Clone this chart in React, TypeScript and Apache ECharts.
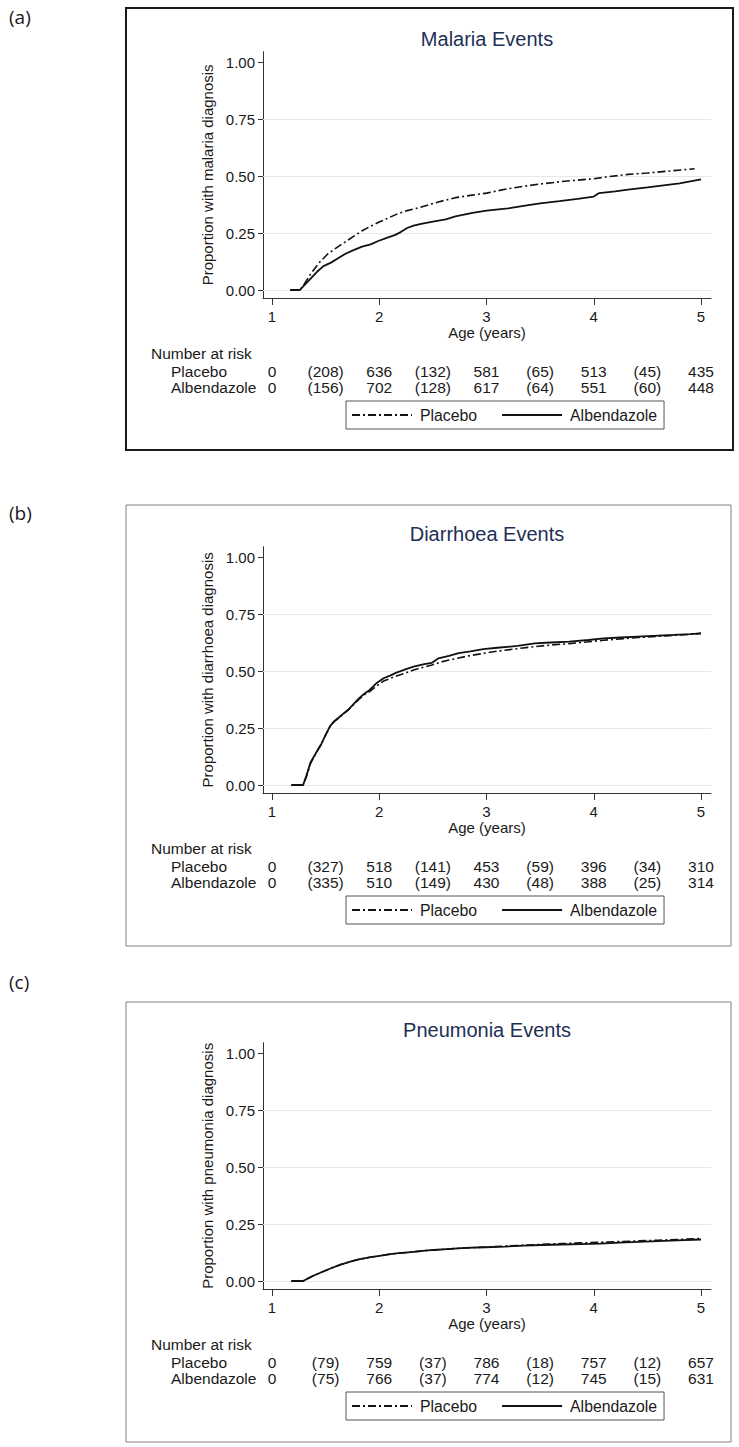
import React, { useEffect, useRef } from "react";
import * as echarts from "echarts";

// ---------- data ----------
const xTicks = [1, 2, 3, 4, 5];
const yTicks = [0, 0.25, 0.5, 0.75, 1];
const gridValues = [0, 0.25, 0.5, 0.75];
const seriesNames = ["Placebo", "Albendazole"];
const panelLetters = ["(a)", "(b)", "(c)"];
const panelTitles = ["Malaria Events", "Diarrhoea Events", "Pneumonia Events"];
const yTitles = [
  "Proportion with malaria diagnosis",
  "Proportion with diarrhoea diagnosis",
  "Proportion with pneumonia diagnosis",
];
const xTitle = "Age (years)";
const riskHeader = "Number at risk";
const riskAges = [1, 2, 3, 4, 5];
const censorAges = [1.5, 2.5, 3.5, 4.5];

const malariaPlacebo = [
  [1.17, 0], [1.26, 0], [1.3, 0.025], [1.36, 0.07], [1.44, 0.12], [1.52, 0.158],
  [1.6, 0.185], [1.68, 0.21], [1.76, 0.235], [1.84, 0.26], [1.92, 0.28], [2.0, 0.298],
  [2.08, 0.315], [2.17, 0.334], [2.25, 0.347], [2.33, 0.356], [2.45, 0.372], [2.55, 0.386],
  [2.71, 0.405], [2.85, 0.415], [3.0, 0.425], [3.2, 0.444], [3.35, 0.455], [3.52, 0.466],
  [3.75, 0.478], [4.0, 0.488], [4.15, 0.498], [4.32, 0.507], [4.5, 0.513], [4.71, 0.522],
  [4.94, 0.532],
];
const malariaAlbendazole = [
  [1.17, 0], [1.26, 0], [1.3, 0.02], [1.36, 0.05], [1.42, 0.08], [1.48, 0.105], [1.55, 0.12],
  [1.62, 0.14], [1.68, 0.158], [1.76, 0.175], [1.84, 0.19], [1.92, 0.2], [1.99, 0.215],
  [2.07, 0.229], [2.15, 0.242], [2.2, 0.254], [2.26, 0.272], [2.32, 0.282], [2.39, 0.29],
  [2.5, 0.3], [2.62, 0.31], [2.71, 0.323], [2.87, 0.338], [3.0, 0.348], [3.2, 0.358],
  [3.36, 0.37], [3.5, 0.38], [3.68, 0.39], [3.85, 0.4], [4.0, 0.41], [4.05, 0.425],
  [4.2, 0.433], [4.32, 0.44], [4.5, 0.45], [4.65, 0.459], [4.8, 0.468], [5.0, 0.485],
];
const diarrhoeaPlacebo = [
  [1.18, 0], [1.29, 0], [1.32, 0.035], [1.36, 0.095], [1.41, 0.14], [1.46, 0.18], [1.5, 0.22],
  [1.54, 0.255], [1.58, 0.278], [1.62, 0.293], [1.67, 0.313], [1.71, 0.328], [1.76, 0.352],
  [1.81, 0.375], [1.86, 0.395], [1.91, 0.41], [1.97, 0.432], [2.04, 0.456], [2.1, 0.467],
  [2.16, 0.478], [2.25, 0.492], [2.32, 0.504], [2.42, 0.518], [2.49, 0.526], [2.58, 0.54],
  [2.65, 0.548], [2.74, 0.557], [2.85, 0.568], [2.97, 0.577], [3.1, 0.587], [3.29, 0.598],
  [3.45, 0.607], [3.6, 0.614], [3.77, 0.62], [3.95, 0.628], [4.09, 0.635], [4.25, 0.641],
  [4.41, 0.647], [4.6, 0.652], [4.74, 0.656], [4.9, 0.661], [5.0, 0.665],
];
const diarrhoeaAlbendazole = [
  [1.18, 0], [1.29, 0], [1.32, 0.04], [1.36, 0.1], [1.41, 0.14], [1.46, 0.18], [1.5, 0.22],
  [1.54, 0.257], [1.58, 0.28], [1.62, 0.295], [1.67, 0.315], [1.71, 0.33], [1.76, 0.355],
  [1.81, 0.38], [1.86, 0.4], [1.91, 0.417], [1.97, 0.445], [2.04, 0.468], [2.1, 0.48],
  [2.16, 0.493], [2.25, 0.508], [2.32, 0.519], [2.42, 0.53], [2.49, 0.536], [2.55, 0.555],
  [2.65, 0.566], [2.74, 0.578], [2.85, 0.586], [2.97, 0.596], [3.1, 0.602], [3.29, 0.61],
  [3.45, 0.621], [3.6, 0.625], [3.77, 0.629], [3.95, 0.636], [4.09, 0.643], [4.25, 0.647],
  [4.41, 0.651], [4.6, 0.655], [4.74, 0.658], [4.9, 0.662], [5.0, 0.665],
];
const pneumoniaPlacebo = [
  [1.18, 0], [1.29, 0], [1.33, 0.01], [1.38, 0.022], [1.45, 0.036], [1.55, 0.056],
  [1.64, 0.072], [1.73, 0.085], [1.82, 0.096], [1.91, 0.104], [2.0, 0.11], [2.09, 0.117],
  [2.18, 0.122], [2.27, 0.126], [2.36, 0.13], [2.45, 0.134], [2.54, 0.137], [2.63, 0.14],
  [2.8, 0.145], [2.99, 0.149], [3.17, 0.153], [3.35, 0.157], [3.52, 0.161], [3.7, 0.164],
  [3.88, 0.167], [4.06, 0.17], [4.24, 0.173], [4.42, 0.176], [4.6, 0.179], [4.78, 0.182],
  [5.0, 0.186],
];
const pneumoniaAlbendazole = [
  [1.18, 0], [1.29, 0], [1.33, 0.01], [1.38, 0.022], [1.45, 0.036], [1.55, 0.056],
  [1.64, 0.072], [1.73, 0.085], [1.82, 0.096], [1.91, 0.104], [2.0, 0.11], [2.09, 0.117],
  [2.18, 0.122], [2.27, 0.126], [2.36, 0.13], [2.45, 0.134], [2.54, 0.137], [2.63, 0.14],
  [2.8, 0.145], [2.99, 0.148], [3.17, 0.151], [3.35, 0.155], [3.52, 0.158], [3.7, 0.16],
  [3.88, 0.162], [4.06, 0.164], [4.24, 0.168], [4.42, 0.172], [4.6, 0.175], [4.78, 0.178],
  [5.0, 0.182],
];

const malariaPlaceboRisk = [0, 636, 581, 513, 435];
const malariaPlaceboCens = [208, 132, 65, 45];
const malariaAlbRisk = [0, 702, 617, 551, 448];
const malariaAlbCens = [156, 128, 64, 60];
const diarrhoeaPlaceboRisk = [0, 518, 453, 396, 310];
const diarrhoeaPlaceboCens = [327, 141, 59, 34];
const diarrhoeaAlbRisk = [0, 510, 430, 388, 314];
const diarrhoeaAlbCens = [335, 149, 48, 25];
const pneumoniaPlaceboRisk = [0, 759, 786, 757, 657];
const pneumoniaPlaceboCens = [79, 37, 18, 12];
const pneumoniaAlbRisk = [0, 766, 774, 745, 631];
const pneumoniaAlbCens = [75, 37, 12, 15];

const curves = [
  [malariaPlacebo, malariaAlbendazole],
  [diarrhoeaPlacebo, diarrhoeaAlbendazole],
  [pneumoniaPlacebo, pneumoniaAlbendazole],
];
const risks = [
  [[malariaPlaceboRisk, malariaPlaceboCens], [malariaAlbRisk, malariaAlbCens]],
  [[diarrhoeaPlaceboRisk, diarrhoeaPlaceboCens], [diarrhoeaAlbRisk, diarrhoeaAlbCens]],
  [[pneumoniaPlaceboRisk, pneumoniaPlaceboCens], [pneumoniaAlbRisk, pneumoniaAlbCens]],
];

// ---------- layout ----------
const FONT = "'Liberation Sans', Arial, Helvetica, sans-serif";
const TEXT = "#1a1a1a";
const layouts = [
  { y0: 62, frameTop: 8, frameBottom: 450, frameRight: 733, frameW: 2, frameColor: "#1a1a1a", letterY: 17 },
  { y0: 557, frameTop: 505, frameBottom: 946, frameRight: 731, frameW: 1, frameColor: "#808080", letterY: 513 },
  { y0: 1053, frameTop: 1002, frameBottom: 1442, frameRight: 731, frameW: 1, frameColor: "#808080", letterY: 982 },
];
const PLOT_LEFT = 263;
const PLOT_W = 448;
const X_MIN = 0.916;
const X_MAX = 5.093;
const Y_MIN = -0.035;
const Y_MAX = 1.045;
const PX_PER_UNIT = 228;

function buildOption() {
  const grid: any[] = [];
  const xAxis: any[] = [];
  const yAxis: any[] = [];
  const series: any[] = [];
  const legend: any[] = [];
  const graphic: any[] = [];

  layouts.forEach((L, i) => {
    const plotTop = L.y0 - (Y_MAX - 1) * PX_PER_UNIT;
    const plotH = (Y_MAX - Y_MIN) * PX_PER_UNIT;
    grid.push({ left: PLOT_LEFT, top: plotTop, width: PLOT_W, height: plotH, containLabel: false });
    grid.push({ left: PLOT_LEFT, top: L.y0 + 309, width: PLOT_W, height: 16, containLabel: false });

    xAxis.push({
      gridIndex: 2 * i,
      type: "value",
      min: X_MIN,
      max: X_MAX,
      axisLine: { show: true, onZero: false, lineStyle: { color: "#333", width: 1 } },
      axisTick: { show: true, length: 7, customValues: xTicks, lineStyle: { color: "#333" } },
      axisLabel: { customValues: xTicks, margin: 11, fontSize: 15, color: TEXT, fontFamily: FONT },
      splitLine: { show: false },
      name: xTitle,
      nameLocation: "middle",
      nameGap: 27,
      nameTextStyle: { fontSize: 15, color: TEXT, fontFamily: FONT },
    });
    xAxis.push({ gridIndex: 2 * i + 1, type: "value", min: X_MIN, max: X_MAX, show: false });

    yAxis.push({
      gridIndex: 2 * i,
      type: "value",
      min: Y_MIN,
      max: Y_MAX,
      axisLine: { show: true, lineStyle: { color: "#333", width: 1 } },
      axisTick: { show: true, length: 5, customValues: yTicks, lineStyle: { color: "#333" } },
      axisLabel: {
        customValues: yTicks,
        formatter: (v: number) => v.toFixed(2),
        margin: 8,
        fontSize: 15,
        color: TEXT,
        fontFamily: FONT,
      },
      splitLine: { show: false },
      name: yTitles[i],
      nameLocation: "middle",
      nameRotate: 90,
      nameGap: 47,
      nameTextStyle: { fontSize: 15, color: TEXT, fontFamily: FONT },
    });
    yAxis.push({ gridIndex: 2 * i + 1, type: "value", min: 0, max: 1, show: false });

    const [plac, alb] = curves[i];
    series.push({
      type: "line",
      name: seriesNames[0],
      xAxisIndex: 2 * i,
      yAxisIndex: 2 * i,
      data: plac,
      symbol: "none",
      smooth: false,
      z: 3,
      itemStyle: { color: "#111" },
      lineStyle: { color: "#111", width: 1.6, type: [8, 3, 2, 3] },
      markLine: {
        silent: true,
        symbol: "none",
        z: 1,
        label: { show: false },
        lineStyle: { color: "#e1e9ec", width: 1, type: "solid" },
        emphasis: { disabled: true },
        data: gridValues.map((v) => ({ yAxis: v })),
      },
    });
    series.push({
      type: "line",
      name: seriesNames[1],
      xAxisIndex: 2 * i,
      yAxisIndex: 2 * i,
      data: alb,
      symbol: "none",
      smooth: false,
      z: 4,
      itemStyle: { color: "#111" },
      lineStyle: { color: "#111", width: 1.8, type: "solid" },
    });

    risks[i].forEach(([risk, cens], r) => {
      const rowVal = r === 0 ? 1 : 0;
      const data = [
        ...riskAges.map((a, j) => [a, rowVal, String(risk[j])]),
        ...censorAges.map((a, j) => [a, rowVal, "(" + cens[j] + ")"]),
      ];
      series.push({
        type: "scatter",
        name: "risk-" + i + "-" + r,
        xAxisIndex: 2 * i + 1,
        yAxisIndex: 2 * i + 1,
        data,
        symbolSize: 2,
        itemStyle: { color: "rgba(0,0,0,0)" },
        silent: true,
        label: {
          show: true,
          position: "inside",
          formatter: (p: any) => p.data[2],
          fontSize: 15.5,
          color: TEXT,
          opacity: 1,
          textBorderWidth: 0,
          fontFamily: FONT,
          align: "center",
          verticalAlign: "middle",
        },
      });
    });

    legend.push({
      data: seriesNames,
      left: 346,
      top: L.y0 + 339,
      orient: "horizontal",
      itemWidth: 60,
      itemHeight: 14,
      itemGap: 24,
      padding: [5, 7, 5, 5],
      borderColor: "#555",
      borderWidth: 1,
      selectedMode: false,
      itemStyle: { color: "rgba(0,0,0,0)", borderColor: "rgba(0,0,0,0)", borderWidth: 0, opacity: 0 },
      textStyle: { fontSize: 15.8, color: TEXT, fontFamily: FONT, padding: [0, 0, 0, 3], lineHeight: 18 },
    });

    graphic.push({
      type: "rect",
      shape: { x: 126, y: L.frameTop, width: L.frameRight - 126, height: L.frameBottom - L.frameTop },
      style: { fill: "none", stroke: L.frameColor, lineWidth: L.frameW },
      silent: true,
    });
    graphic.push({
      type: "text",
      x: 9,
      y: L.letterY,
      style: { text: panelLetters[i], fontSize: 19, fontFamily: "'Open Sans', 'Noto Sans', sans-serif", fill: TEXT, align: "left", verticalAlign: "middle" },
      silent: true,
    });
    graphic.push({
      type: "text",
      x: 487,
      y: L.y0 - 23,
      style: { text: panelTitles[i], fontSize: 20, fontFamily: FONT, fill: "#1e2f55", align: "center", verticalAlign: "middle" },
      silent: true,
    });
    graphic.push({
      type: "text",
      x: 151,
      y: L.y0 + 291,
      style: { text: riskHeader, fontSize: 15.5, fontFamily: FONT, fill: TEXT, align: "left", verticalAlign: "middle" },
      silent: true,
    });
    seriesNames.forEach((nm, r) => {
      graphic.push({
        type: "text",
        x: 171,
        y: L.y0 + 309 + r * 16,
        style: { text: nm, fontSize: 15.5, fontFamily: FONT, fill: TEXT, align: "left", verticalAlign: "middle" },
        silent: true,
      });
    });
  });

  return {
    animation: false,
    backgroundColor: "#ffffff",
    grid,
    xAxis,
    yAxis,
    series,
    legend,
    graphic,
  };
}

export default function App() {
  const ref = useRef<HTMLDivElement>(null);
  useEffect(() => {
    document.body.style.margin = "0";
    if (!ref.current) return;
    const chart = echarts.init(ref.current, null, { renderer: "svg" });
    chart.setOption(buildOption() as any);
    return () => chart.dispose();
  }, []);
  return <div ref={ref} style={{ width: 739, height: 1447 }} />;
}
